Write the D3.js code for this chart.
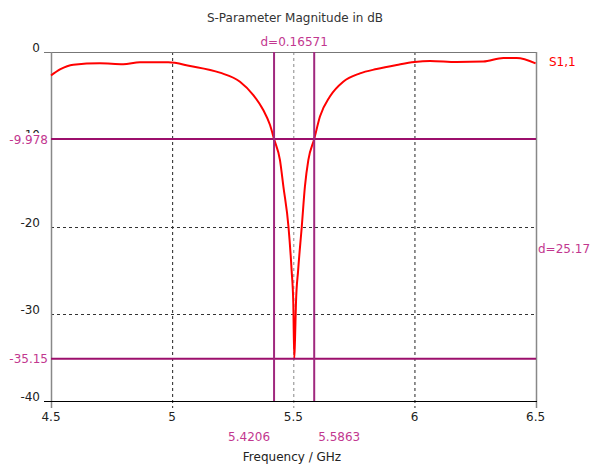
<!DOCTYPE html>
<html><head><meta charset="utf-8">
<script src="https://cdn.jsdelivr.net/npm/d3@7"></script>
<style>body{margin:0;background:#fff}svg{display:block}text{font-family:"DejaVu Sans",sans-serif}</style>
</head><body><svg id="c" width="590" height="465"></svg>
<script>
const freq = [4.5,4.537,4.592,4.702,4.798,4.867,4.984,5.074,5.197,5.28,5.335,5.376,5.404,5.4206,5.445,5.459,5.48,5.493,5.50,5.504,5.507,5.511,5.52,5.535,5.548,5.562,5.5863,5.61,5.651,5.706,5.775,5.844,5.927,6.0,6.064,6.174,6.284,6.367,6.422,6.5];
const s11  = [-2.7,-2.0,-1.45,-1.3,-1.41,-1.18,-1.18,-1.6,-2.37,-3.4,-4.93,-6.65,-8.37,-9.978,-12.4,-15.4,-20,-25,-28.8,-35.15,-33,-28.8,-25,-20,-15.4,-12.4,-9.978,-7.4,-5.1,-3.4,-2.45,-1.95,-1.49,-1.15,-1.03,-1.15,-1.1,-0.69,-0.69,-1.3];
const xTicks = [4.5,5,5.5,6,6.5];
const yTicks = [0,-10,-20,-30,-40];
const markerX = [5.4206,5.5863];
const markerY = [-9.978,-35.15];
const deltaXLabel = "d=0.16571";
const deltaYLabel = "d=25.17";
const title = "S-Parameter Magnitude in dB";
const xLabel = "Frequency / GHz";
const seriesName = "S1,1";

const svg = d3.select("#c");
const x = d3.scaleLinear().domain([4.5,6.5]).range([51,535.6]);
const y = d3.scaleLinear().domain([-40,0]).range([401,52]);
const mag = "#9c0f6c", magT = "#c2378f";

// grid
xTicks.filter(v=>v>4.5&&v<6.5).forEach(v=>{
  svg.append("line").attr("x1",x(v)+0.5).attr("x2",x(v)+0.5).attr("y1",52).attr("y2",408)
    .attr("stroke", v===5.5?"#888":"#222").attr("stroke-dasharray","3,3").attr("stroke-width",1);
});
yTicks.filter(v=>v<0&&v>-40).forEach(v=>{
  svg.append("line").attr("x1",51).attr("x2",536).attr("y1",Math.round(y(v))+0.5).attr("y2",Math.round(y(v))+0.5)
    .attr("stroke","#333").attr("stroke-dasharray","3,3");
});
// frame
svg.append("line").attr("x1",44).attr("x2",537).attr("y1",52.5).attr("y2",52.5).attr("stroke","#777");
svg.append("line").attr("x1",51.5).attr("x2",51.5).attr("y1",52).attr("y2",408).attr("stroke","#888").attr("stroke-width",1.5);
svg.append("line").attr("x1",536.5).attr("x2",536.5).attr("y1",52).attr("y2",408).attr("stroke","#888").attr("stroke-width",1.5);
svg.append("line").attr("x1",44).attr("x2",537).attr("y1",401.5).attr("y2",401.5).attr("stroke","#000");

// y tick labels
yTicks.forEach(v=>{
  svg.append("text").attr("x",40).attr("y",y(v)).attr("text-anchor","end").attr("font-size",12).attr("fill","#222").text(v);
});
// x tick labels
xTicks.forEach(v=>{
  svg.append("text").attr("x",x(v)).attr("y",421).attr("text-anchor","middle").attr("font-size",12).attr("fill","#222").text(v);
});

// curve
svg.append("path").datum(freq.map((f,i)=>[f,s11[i]]))
  .attr("d", d3.line().x(d=>x(d[0])).y(d=>y(d[1])).curve(d3.curveMonotoneX))
  .attr("fill","none").attr("stroke","#ff0000").attr("stroke-width",2);

// markers
markerY.forEach(v=>{
  svg.append("line").attr("x1",51).attr("x2",536).attr("y1",y(v)).attr("y2",y(v)).attr("stroke",mag).attr("stroke-width",2);
});
markerX.forEach(v=>{
  svg.append("line").attr("x1",x(v)).attr("x2",x(v)).attr("y1",52).attr("y2",401).attr("stroke","#a0287e").attr("stroke-width",2);
});
// marker labels
markerY.forEach(v=>{
  svg.append("rect").attr("x",6).attr("y",y(v)-6).attr("width",44).attr("height",13).attr("fill","#fff");
  svg.append("text").attr("x",48).attr("y",y(v)+4.5).attr("text-anchor","end").attr("font-size",12).attr("fill",magT).text(v);
});
svg.append("text").attr("x",x(markerX[0])-4).attr("y",441).attr("text-anchor","end").attr("font-size",12).attr("fill",magT).text(markerX[0]);
svg.append("text").attr("x",x(markerX[1])+4).attr("y",441).attr("text-anchor","start").attr("font-size",12).attr("fill",magT).text(markerX[1]);
svg.append("text").attr("x",(x(markerX[0])+x(markerX[1]))/2).attr("y",46).attr("text-anchor","middle").attr("font-size",12).attr("fill",magT)
  .text(deltaXLabel);
svg.append("text").attr("x",538).attr("y",(y(markerY[0])+y(markerY[1]))/2+4.5).attr("font-size",12).attr("fill",magT)
  .text(deltaYLabel);

// legend
svg.append("text").attr("x",549).attr("y",66).attr("font-size",12).attr("fill","#ff0000").text(seriesName);
// title
svg.append("text").attr("x",295).attr("y",22).attr("text-anchor","middle").attr("font-size",12).attr("fill","#333").text(title);
svg.append("text").attr("x",292).attr("y",461).attr("text-anchor","middle").attr("font-size",12).attr("fill","#222").text(xLabel);
</script></body></html>
